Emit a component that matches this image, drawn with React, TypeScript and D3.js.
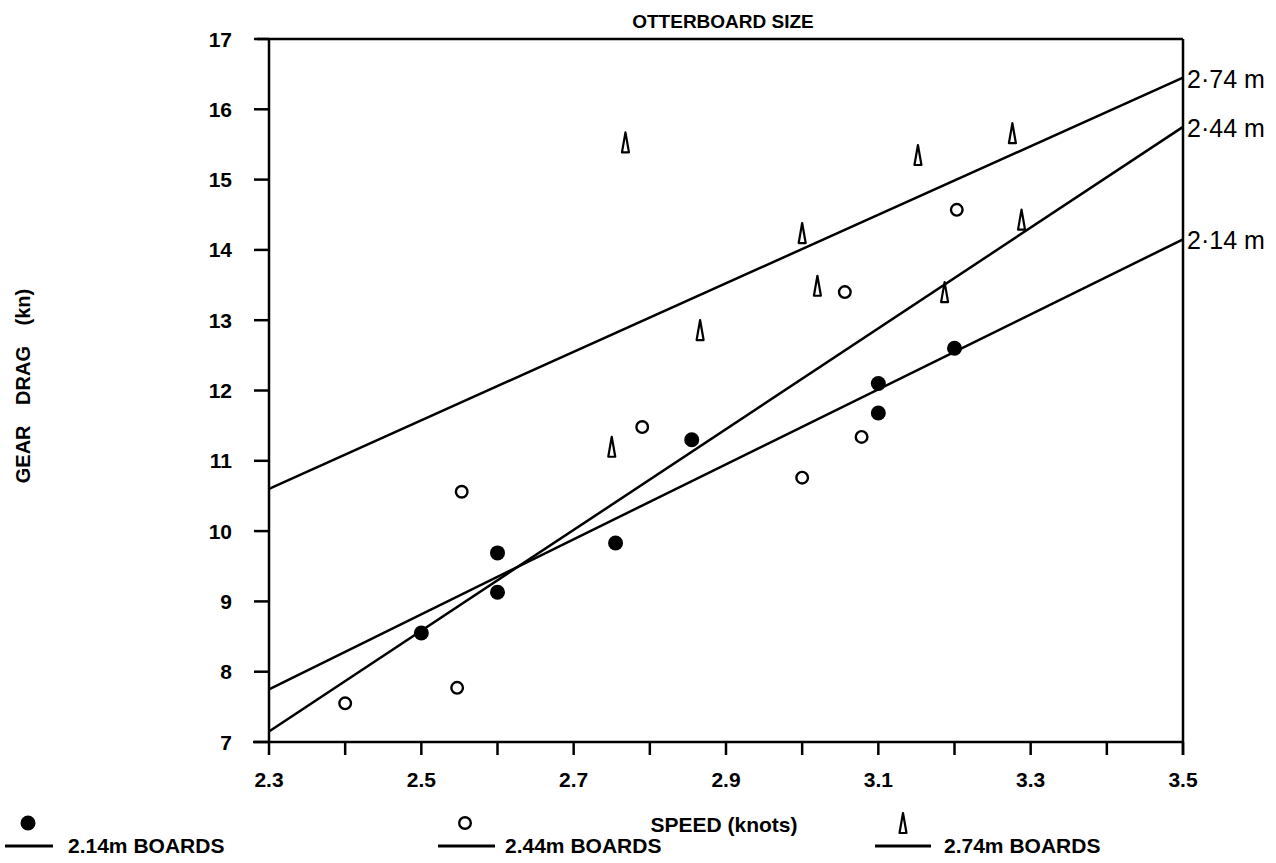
import React from 'react';
import * as d3 from 'd3';

const speed214 = [2.5, 2.6, 2.6, 2.755, 2.855, 3.1, 3.1, 3.2];
const drag214 = [8.55, 9.69, 9.13, 9.83, 11.3, 12.1, 11.68, 12.6];

const speed244 = [2.4, 2.547, 2.553, 2.79, 3.0, 3.078, 3.056, 3.203];
const drag244 = [7.55, 7.77, 10.56, 11.48, 10.76, 11.34, 13.4, 14.57];

const speed274 = [2.768, 2.75, 2.866, 3.0, 3.02, 3.152, 3.276, 3.187, 3.288];
const drag274 = [15.53, 11.2, 12.86, 14.24, 13.49, 15.35, 15.66, 13.4, 14.43];

// fitted lines, end points at 2.3 and 3.5 knots
const fitSpeed = [2.3, 3.5];
const fit214 = [7.75, 14.15];
const fit244 = [7.15, 15.75];
const fit274 = [10.6, 16.45];

const fitLabels = ["2·74 m", "2·44 m", "2·14 m"];
const legendLabels = ["2.14m BOARDS", "2.44m BOARDS", "2.74m BOARDS"];
const xLabelTicks = [2.3, 2.5, 2.7, 2.9, 3.1, 3.3, 3.5];

const font = '"Liberation Sans", Arial, sans-serif';

const margin = { left: 269, right: 1183, top: 39, bottom: 742 };

const x = d3.scaleLinear().domain([2.3, 3.5]).range([margin.left, margin.right]);
const y = d3.scaleLinear().domain([7, 17]).range([margin.bottom, margin.top]);

const zip = (xs: number[], ys: number[]) => xs.map((v, i) => [v, ys[i]] as [number, number]);

const triangle = (cx: number, cy: number) =>
	`M ${cx} ${cy - 10} L ${cx - 3.5} ${cy + 10} L ${cx + 3.5} ${cy + 10} Z`;

const Filled = ({ cx, cy }: { cx: number; cy: number }) => (
	<circle cx={cx} cy={cy} r={7.5} fill="#000" />
);
const Open = ({ cx, cy }: { cx: number; cy: number }) => (
	<circle cx={cx} cy={cy} r={5.8} fill="#fff" stroke="#000" strokeWidth={2.4} />
);
const Tri = ({ cx, cy }: { cx: number; cy: number }) => (
	<path d={triangle(cx, cy)} fill="#fff" stroke="#000" strokeWidth={2.2} strokeLinejoin="round" />
);

export default function App() {
	const line = d3.line<[number, number]>().x(d => x(d[0])).y(d => y(d[1]));

	const fits = [fit274, fit244, fit214];
	const xTicks = x.ticks(12);
	const yTicks = y.ticks(10);

	const legend = [
		{ lx1: 5, lx2: 53, tx: 68, sx: 28, mark: (cx: number, cy: number) => <Filled cx={cx} cy={cy} /> },
		{ lx1: 438, lx2: 495, tx: 505, sx: 465, mark: (cx: number, cy: number) => <Open cx={cx} cy={cy} /> },
		{ lx1: 875, lx2: 931, tx: 944, sx: 903, mark: (cx: number, cy: number) => <Tri cx={cx} cy={cy} /> }
	];

	return (
		<svg width={1276} height={863} style={{ position: 'absolute', left: 0, top: 0, background: '#fff' }}>
			<g fill="none" stroke="#000" strokeWidth={2.5}>
				{/* frame */}
				<line x1={257} x2={margin.right} y1={margin.top} y2={margin.top} />
				<line x1={253} x2={margin.right} y1={margin.bottom} y2={margin.bottom} />
				<line x1={margin.left} x2={margin.left} y1={margin.top} y2={margin.bottom} />
				<line x1={margin.right} x2={margin.right} y1={margin.top} y2={margin.bottom + 13} />
				{xTicks.map(t => (
					<line key={`xt${t}`} x1={x(t)} x2={x(t)} y1={margin.bottom} y2={margin.bottom + 13} />
				))}
				{yTicks.map(t => (
					<line key={`yt${t}`} x1={254} x2={margin.left} y1={y(t)} y2={y(t)} />
				))}
			</g>

			<g fontFamily={font} fontWeight="bold" fontSize={21} fill="#000">
				{yTicks.map(t => (
					<text key={`yl${t}`} x={232} y={y(t)} textAnchor="end" dominantBaseline="central">{t}</text>
				))}
				{xLabelTicks.map(t => (
					<text key={`xl${t}`} x={x(t)} y={779} textAnchor="middle" dominantBaseline="central">{t.toFixed(1)}</text>
				))}
			</g>

			<g fontFamily={font} fontWeight="bold" fill="#000">
				<text x={723} y={21} fontSize={19} textAnchor="middle" dominantBaseline="central">
					OTTERBOARD SIZE
				</text>
				<text x={724} y={824} fontSize={21} textAnchor="middle" dominantBaseline="central">
					SPEED (knots)
				</text>
				<text
					transform={`translate(23,386)rotate(-90)`}
					fontSize={20}
					wordSpacing={15}
					textAnchor="middle"
					dominantBaseline="central">
					GEAR DRAG (kn)
				</text>
			</g>

			<g fill="none" stroke="#000" strokeWidth={2.5}>
				{fits.map((f, i) => (
					<path key={`fit${i}`} d={line(zip(fitSpeed, f)) || ''} />
				))}
			</g>

			<g fontFamily={font} fontSize={25} fill="#000">
				{fits.map((f, i) => (
					<text
						key={`fl${i}`}
						x={margin.right + 4}
						y={y(f[1]) + 1}
						dominantBaseline="central">
						{fitLabels[i]}
					</text>
				))}
			</g>

			<g>
				{zip(speed214, drag214).map((d, i) => <Filled key={`a${i}`} cx={x(d[0])} cy={y(d[1])} />)}
				{zip(speed244, drag244).map((d, i) => <Open key={`b${i}`} cx={x(d[0])} cy={y(d[1])} />)}
				{zip(speed274, drag274).map((d, i) => <Tri key={`c${i}`} cx={x(d[0])} cy={y(d[1])} />)}
			</g>

			<g>
				{legend.map((l, i) => (
					<g key={`lg${i}`}>
						{l.mark(l.sx, 823)}
						<line x1={l.lx1} x2={l.lx2} y1={846} y2={846} stroke="#000" strokeWidth={3} />
						<text x={l.tx} y={845} fontFamily={font} fontWeight="bold" fontSize={21} dominantBaseline="central">
							{legendLabels[i]}
						</text>
					</g>
				))}
			</g>
		</svg>
	);
}
